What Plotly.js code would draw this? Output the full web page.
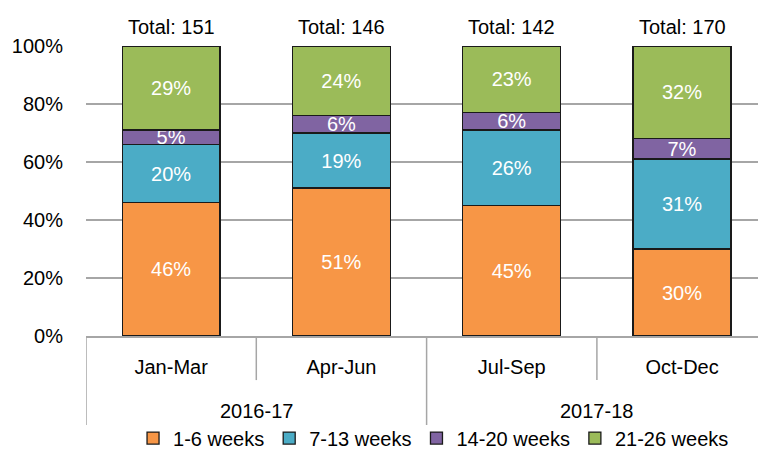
<!DOCTYPE html>
<html>
<head>
<meta charset="utf-8">
<script src="https://cdn.plot.ly/plotly-3.0.1.min.js"></script>
<style>html,body{margin:0;padding:0;background:#fff;}#chart{width:758px;height:450px;}</style>
</head>
<body>
<div id="chart"></div>
<script>
const quarters = ["Jan-Mar", "Apr-Jun", "Jul-Sep", "Oct-Dec"];
const years = ["2016-17", "2016-17", "2017-18", "2017-18"];
const yearGroups = ["2016-17", "2017-18"];
const totals = [151, 146, 142, 170];
const seriesNames = ["1-6 weeks", "7-13 weeks", "14-20 weeks", "21-26 weeks"];
const weeks1to6 = [46, 51, 45, 30];
const weeks7to13 = [20, 19, 26, 31];
const weeks14to20 = [5, 6, 6, 7];
const weeks21to26 = [29, 24, 23, 32];
const yTicks = [0, 20, 40, 60, 80, 100];

const colors = ["#F79646", "#4BACC6", "#8064A2", "#9BBB59"];
const FONT = "Liberation Sans, Arial, sans-serif";
const seriesVals = [weeks1to6, weeks7to13, weeks14to20, weeks21to26];

const traces = seriesVals.map((vals, i) => ({
  type: "bar",
  name: seriesNames[i],
  x: quarters.map((q, j) => j),
  y: vals,
  text: vals.map(v => v + "%"),
  textposition: "inside",
  insidetextanchor: "middle",
  textangle: 0,
  textfont: {color: "#ffffff", size: 20, family: FONT},
  marker: {color: colors[i], line: {color: "#1a1a1a", width: 1.3}},
  hoverinfo: "skip"
}));

const annotations = [];
totals.forEach((t, j) => annotations.push({
  x: j, y: 100, xref: "x", yref: "y", yanchor: "bottom", yshift: 6,
  text: "Total: " + t, showarrow: false,
  font: {size: 20, color: "#000", family: FONT}
}));
yearGroups.forEach((g) => {
  const idx = years.map((y, j) => y === g ? j : -1).filter(j => j >= 0);
  const mid = (idx[0] + idx[idx.length - 1]) / 2;
  annotations.push({
    x: mid, y: -0.258, xref: "x", yref: "paper", yanchor: "middle",
    text: g, showarrow: false, font: {size: 20, color: "#000", family: FONT}
  });
});

const shapes = [];
const lineStyle = {color: "#a6a6a6", width: 1.5};
for (let j = 0; j < quarters.length; j++) {
  const isGroupStart = j === 0 || years[j] !== years[j - 1];
  shapes.push({
    type: "line", xref: "x", yref: "paper",
    x0: j - 0.5, x1: j - 0.5, y0: 0, y1: isGroupStart ? -0.307 : -0.152,
    line: lineStyle, layer: "above"
  });
}

const layout = {
  width: 758, height: 450,
  margin: {l: 86, r: 0, t: 46, b: 114, autoexpand: false},
  paper_bgcolor: "#fff", plot_bgcolor: "#fff",
  barmode: "stack", bargap: 0.425,
  font: {family: FONT, size: 20, color: "#000"},
  showlegend: true,
  legend: {
    orientation: "h", x: 0.07, xanchor: "left", y: -0.352, yanchor: "middle",
    font: {size: 20, family: FONT, color: "#000"}, traceorder: "normal",
    bgcolor: "rgba(0,0,0,0)"
  },
  uniformtext: {mode: "show", minsize: 20},
  xaxis: {
    type: "linear", range: [-0.5, 3.446],
    tickmode: "array", tickvals: quarters.map((q, j) => j), ticktext: quarters,
    showgrid: false, zeroline: false,
    showline: true, linecolor: "#a6a6a6", linewidth: 1.5,
    ticks: "", ticklabelstandoff: 12,
    tickfont: {size: 20, family: FONT, color: "#000"}
  },
  yaxis: {
    range: [0, 100], tickmode: "array", tickvals: yTicks,
    ticktext: yTicks.map(v => v + "%"),
    showgrid: true, gridcolor: "#a6a6a6", gridwidth: 1.5,
    zeroline: false, showline: false, ticks: "",
    ticklabelstandoff: 22,
    tickfont: {size: 20, family: FONT, color: "#000"}
  },
  annotations: annotations,
  shapes: shapes
};

Plotly.newPlot("chart", traces, layout, {displayModeBar: false, staticPlot: true});
</script>
</body>
</html>
